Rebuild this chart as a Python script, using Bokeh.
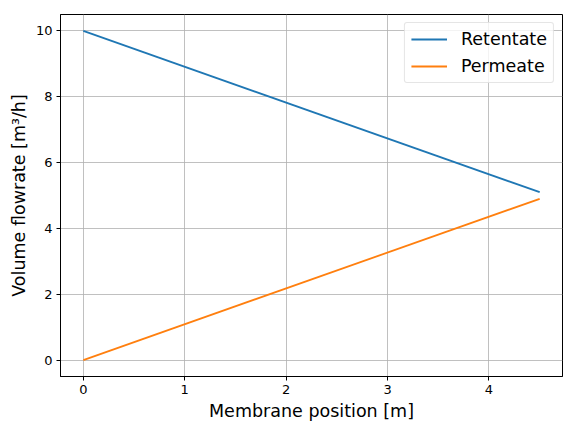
from bokeh.plotting import figure
from bokeh.embed import file_html
from bokeh.resources import INLINE
from bokeh.models import Range1d, SingleIntervalTicker, Legend, LegendItem

# Data
position = [0.0, 4.5]
retentate = [10.0, 5.1]
permeate = [0.0, 4.9]

FONT = "DejaVu Sans"

p = figure(width=576, height=432, output_backend="svg", toolbar_location=None,
           x_range=Range1d(-0.225, 4.725), y_range=Range1d(-0.5, 10.5),
           min_border_left=60, min_border_right=14, min_border_top=14, min_border_bottom=56)

p.background_fill_color = "white"
p.border_fill_color = "white"
p.outline_line_color = "black"
p.outline_line_width = 1

r1 = p.line(position, retentate, line_color="#1f77b4", line_width=1.8)
r2 = p.line(position, permeate, line_color="#ff7f0e", line_width=1.8)

for ax in (p.xaxis[0], p.yaxis[0]):
    ax.axis_line_color = "black"
    ax.major_tick_out = 4
    ax.major_tick_in = 0
    ax.minor_tick_line_color = None
    ax.major_label_text_font = FONT
    ax.major_label_text_font_size = "13px"
    ax.major_label_text_color = "black"
    ax.axis_label_text_font = FONT
    ax.axis_label_text_font_size = "17.5px"
    ax.axis_label_text_font_style = "normal"
    ax.axis_label_text_color = "black"
    ax.major_label_standoff = 4

p.xaxis[0].ticker = SingleIntervalTicker(interval=1)
p.yaxis[0].ticker = SingleIntervalTicker(interval=2)
p.xaxis[0].axis_label = "Membrane position [m]"
p.yaxis[0].axis_label = "Volume flowrate [m³/h]"
p.xaxis[0].axis_label_standoff = 4
p.yaxis[0].axis_label_standoff = 4

p.xgrid.grid_line_color = "#b0b0b0"
p.ygrid.grid_line_color = "#b0b0b0"
p.xgrid.grid_line_width = 0.8
p.ygrid.grid_line_width = 0.8

legend = Legend(items=[LegendItem(label="Retentate", renderers=[r1]),
                       LegendItem(label="Permeate", renderers=[r2])],
                location="top_right")
legend.label_text_font = FONT
legend.label_text_font_size = "17.5px"
legend.label_text_color = "black"
legend.glyph_width = 36
legend.glyph_height = 20
legend.label_height = 20
legend.label_standoff = 14
legend.spacing = 7
legend.padding = 6
legend.margin = 8
legend.border_line_color = "#cccccc"
legend.border_line_width = 1
legend.border_radius = 3
legend.background_fill_alpha = 0.8
p.add_layout(legend)

open("out.html", "w").write(file_html(p, INLINE))
